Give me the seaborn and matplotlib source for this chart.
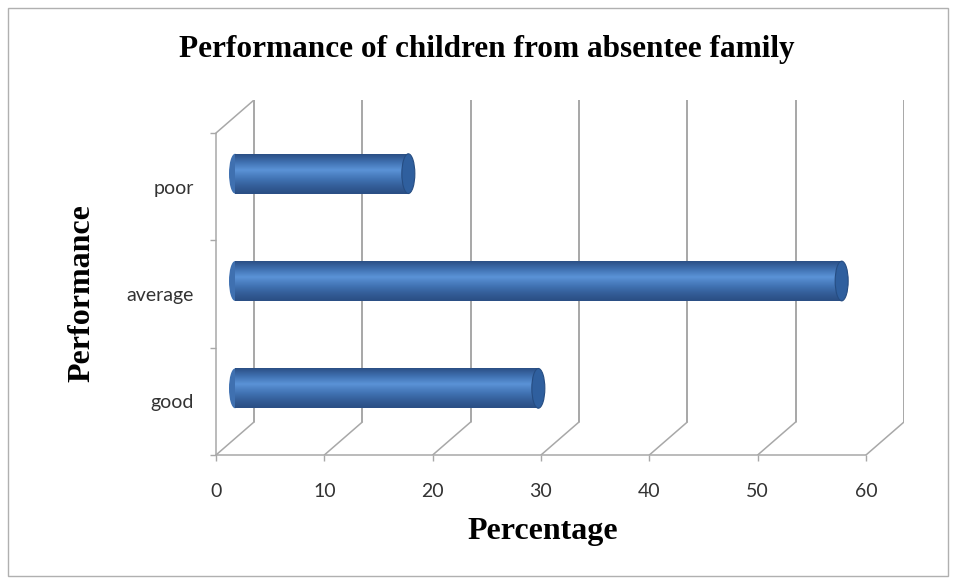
import numpy as np
import pandas as pd
import matplotlib
matplotlib.use("Agg")
import matplotlib.pyplot as plt
import matplotlib.transforms as mtransforms
from matplotlib.patches import Ellipse, Rectangle
import seaborn as sns

# --- Data ---
categories = ["poor", "average", "good"]
percentages = [16, 56, 28]
x_ticks = [0, 10, 20, 30, 40, 50, 60]

df = pd.DataFrame({"Performance": categories, "Percentage": percentages})

# --- Figure / layout (pixel based, 100 dpi) ---
W, H = 956, 582
sns.set_style("white")
fig = plt.figure(figsize=(W / 100, H / 100), dpi=100)

x0_px, x1_px = 216, 904      # front zero .. back right edge
y0_px, y1_px = 455, 100      # floor front .. back wall top
ax = fig.add_axes([x0_px / W, 1 - y0_px / H, (x1_px - x0_px) / W, (y0_px - y1_px) / H])

px_per_x = (866 - 216) / 60.0
px_per_cat = (455 - 133) / 3.0
depth_dx, depth_dy = 38, 33   # back wall offset in px

bar_color = "#4a7fc0"
sns.barplot(data=df, x="Percentage", y="Performance", orient="h",
            color=bar_color, width=0.37, ax=ax, saturation=1)

ax.set_xlim(0, (x1_px - x0_px) / px_per_x)
ax.set_ylim(2.5, -0.5 - depth_dy / px_per_cat)

# offsets for back wall and bar depth
back = ax.transData + mtransforms.ScaledTranslation(depth_dx / 100, depth_dy / 100, fig.dpi_scale_trans)
mid = ax.transData + mtransforms.ScaledTranslation(19 / 100, 13 / 100, fig.dpi_scale_trans)

grid_c = "#8f8f8f"
axis_c = "#a8a8a8"

# back wall gridlines and floor diagonals
for xv in x_ticks:
    ax.plot([xv, xv], [2.5, -0.5], color=grid_c, lw=1.1, transform=back, zorder=1)
    ax.plot([xv, xv + depth_dx / px_per_x], [2.5, 2.5 - depth_dy / px_per_cat],
            color=axis_c, lw=1.1, zorder=1)
# left wall top edge
ax.plot([0, depth_dx / px_per_x], [-0.5, -0.5 - depth_dy / px_per_cat],
        color=axis_c, lw=1.1, zorder=1)

# cylinder shading
grad = np.concatenate([np.linspace(0.0, 1.0, 40), np.linspace(1.0, 0.0, 60) ** 1.3])[:, None]
cmap = matplotlib.colors.LinearSegmentedColormap.from_list(
    "cyl", ["#2b4f85", "#3f70b0", "#5a92d6"])
for p in list(ax.patches):
    p.set_transform(mid)
    p.set_zorder(3)
    p.set_edgecolor("none")
    x, y, w, h = p.get_x(), p.get_y(), p.get_width(), p.get_height()
    yc = y + h / 2
    # rounded left end
    left = Ellipse((x, yc), 12 / px_per_x, h, facecolor="#3f70b0", edgecolor="none",
                   transform=mid, zorder=2.5)
    ax.add_patch(left)
    im = ax.imshow(grad, cmap=cmap, aspect="auto", extent=[x, x + w, y + h, y],
                   transform=mid, zorder=3.5, interpolation="bilinear")
    im.set_clip_path(p)
    cap = Ellipse((x + w, yc), 13 / px_per_x, h, facecolor="#2f5f9e",
                  edgecolor="#264d82", lw=0.8, transform=mid, zorder=4)
    ax.add_patch(cap)

ax.set_xlim(0, (x1_px - x0_px) / px_per_x)
ax.set_ylim(2.5, -0.5 - depth_dy / px_per_cat)

# axes / ticks
for s in ["top", "right"]:
    ax.spines[s].set_visible(False)
ax.spines["left"].set_bounds(-0.5, 2.5)
ax.spines["bottom"].set_bounds(0, 60)
for s in ["left", "bottom"]:
    ax.spines[s].set_color(axis_c)
    ax.spines[s].set_linewidth(1.1)

tick_font = {"family": ["Lato", "DejaVu Sans"], "size": 14}
ax.set_xticks(x_ticks)
ax.set_xticklabels([str(t) for t in x_ticks], fontdict=tick_font, color="#333333")
ax.tick_params(axis="x", length=4, width=1, color=axis_c, direction="out", pad=16, bottom=True)
ax.set_yticks(range(len(categories)))
ax.set_yticklabels(categories, fontdict=tick_font, color="#333333")
ax.tick_params(axis="y", length=0, pad=16)
ax.set_yticks([-0.5, 0.5, 1.5, 2.5], minor=True)
ax.tick_params(axis="y", which="minor", length=4, width=1, color=axis_c, left=True)
ax.set_xlabel("")
ax.set_ylabel("")

# texts
serif = ["Liberation Serif", "DejaVu Serif"]
fig.text(487 / W, 1 - 50 / H, "Performance of children from absentee family",
         ha="center", va="center", family=serif, weight="bold", size=22.5, color="black")
fig.text(82 / W, 1 - 293 / H, "Performance", rotation=90, ha="center", va="center",
         family=serif, weight="bold", size=23, color="black")
fig.text(543 / W, 1 - 532 / H, "Percentage", ha="center", va="center",
         family=serif, weight="bold", size=23, color="black")

# chart area border
fig.patches.append(Rectangle((8 / W, 1 - 576 / H), 940 / W, 568 / H, transform=fig.transFigure,
                             fill=False, edgecolor="#b0b0b0", lw=1))

fig.savefig("out.png", dpi=100)
